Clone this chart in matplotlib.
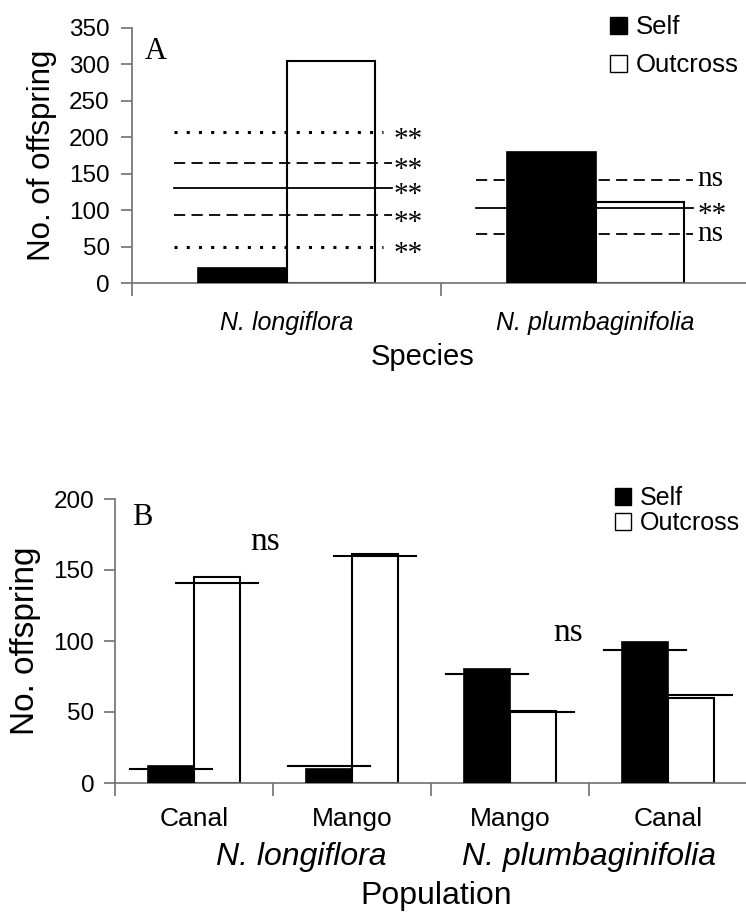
import matplotlib
matplotlib.use('Agg')
import matplotlib.pyplot as plt
from matplotlib.patches import Patch
from matplotlib.transforms import blended_transform_factory, offset_copy

plt.rcParams['font.family'] = ['Liberation Sans', 'DejaVu Sans']
SERIF = ['Liberation Serif', 'DejaVu Serif']

# panel A data
species = ['N. longiflora', 'N. plumbaginifolia']
self_a = [21, 180]
out_a = [305, 111]
# reference lines per species: value, style, significance
ref_a1 = [207, 165, 131, 93, 50]
sty_a1 = ['dotted', 'dashed', 'solid', 'dashed', 'dotted']
sig_a1 = ['**', '**', '**', '**', '**']
ref_a2 = [142, 103, 67]
sty_a2 = ['dashed', 'solid', 'dashed']
sig_a2 = ['ns', '**', 'ns']

# panel B data
pops = ['Canal', 'Mango', 'Mango', 'Canal']
self_b = [12, 10, 80, 99]
out_b = [145, 161, 51, 60]
pred_self = [10, 12, 77, 94]
pred_out = [141, 160, 50, 62]
ns_b = [(0.45, 170), (2.37, 106)]

styles = {'dotted': (0, (1, 3)), 'dashed': (0, (6.2, 3.5)), 'solid': '-'}
GREY = '#707070'

fig = plt.figure(figsize=(7.46, 9.14), dpi=100)
W, H = 746, 914

def place(l, r, t, b):
    return fig.add_axes([l / W, 1 - b / H, (r - l) / W, (b - t) / H])

def style_axes(ax, xsize, ypad):
    for s in ['top', 'right']:
        ax.spines[s].set_visible(False)
    for s in ['left', 'bottom']:
        ax.spines[s].set_color(GREY)
        ax.spines[s].set_linewidth(1.2)
    ax.tick_params(axis='y', direction='out', length=8, width=1.2, color=GREY, labelsize=17.5, pad=ypad)
    ax.tick_params(axis='x', which='major', length=0, labelsize=xsize)
    ax.tick_params(axis='x', which='minor', direction='out', length=9, width=1.2, color=GREY)

def sig_text(ax, x, y, s, size):
    # baseline shifted so the glyphs sit centred on the line
    shift = 15 if s == '**' else 7
    tr = offset_copy(ax.transData, fig=fig, y=-shift * size / 22, units='dots')
    ax.text(x, y, s, family=SERIF, fontsize=size, ha='left', va='baseline', transform=tr)

# ---------- Panel A ----------
axA = place(132, 750, 28, 283)
style_axes(axA, 18, 8)
bw = 0.285
xa = list(range(len(species)))
axA.bar([x - bw / 2 for x in xa], self_a, bw, color='black', edgecolor='black', linewidth=1.2, label='Self', zorder=3)
axA.bar([x + bw / 2 for x in xa], out_a, bw, color='white', edgecolor='black', linewidth=1.5, label='Outcross', zorder=2)

for v, st, sg in zip(ref_a1, sty_a1, sig_a1):
    end = 0.312 if st == 'dotted' else 0.341
    axA.plot([-0.364, end], [v, v], color='black', linestyle=styles[st], linewidth=2.2 if st == 'dotted' else 1.3, zorder=4)
    sig_text(axA, 0.345, v, sg, 21)
for v, st, sg in zip(ref_a2, sty_a2, sig_a2):
    axA.plot([0.613, 1.316], [v, v], color='black', linestyle=styles[st], linewidth=1.3, zorder=4)
    sig_text(axA, 1.33, v, sg, 21)

axA.set_xlim(-0.5, 1.5)
axA.set_ylim(0, 350)
axA.set_yticks(range(0, 351, 50))
axA.set_xticks(xa)
axA.set_xticklabels(species, style='italic')
axA.set_xticks([-0.5, 0.5, 1.5], minor=True)
axA.tick_params(axis='x', which='major', pad=20)
axA.set_xlabel('Species', fontsize=21)
axA.xaxis.set_label_coords(0.47, -(343 - 283) / 255)
axA.set_ylabel('No. of offspring', fontsize=22.5)
axA.yaxis.set_label_coords((57 - 132) / 618, 0.5)
axA.text(-0.458, 318, 'A', family=SERIF, fontsize=22, ha='left', va='center')
axA.legend(handles=[Patch(facecolor='black', edgecolor='black', label='Self'),
                    Patch(facecolor='white', edgecolor='black', label='Outcross')],
           loc='upper left', bbox_to_anchor=(600 / W, 1 - 5 / H), bbox_transform=fig.transFigure,
           frameon=False, fontsize=18.5, handlelength=0.65, handleheight=0.65, handletextpad=0.35,
           labelspacing=0.55, borderaxespad=0)

# ---------- Panel B ----------
axB = place(115, 747, 499, 783)
style_axes(axB, 19, 7)
bwb = 0.29
xb = list(range(len(pops)))
axB.bar([x - bwb / 2 for x in xb], self_b, bwb, color='black', edgecolor='black', linewidth=1.2, zorder=3)
axB.bar([x + bwb / 2 for x in xb], out_b, bwb, color='white', edgecolor='black', linewidth=1.5, zorder=2)
lw_half = 0.26
for x, ps, po in zip(xb, pred_self, pred_out):
    axB.plot([x - bwb / 2 - lw_half, x - bwb / 2 + lw_half], [ps, ps], color='black', linewidth=1.5, zorder=4)
    axB.plot([x + bwb / 2 - lw_half, x + bwb / 2 + lw_half], [po, po], color='black', linewidth=1.5, zorder=4)
for x, y in ns_b:
    axB.text(x, y, 'ns', family=SERIF, fontsize=24, ha='center', va='center')

axB.set_xlim(-0.5, 3.5)
axB.set_ylim(0, 200)
axB.set_yticks(range(0, 201, 50))
axB.set_xticks(xb)
axB.set_xticklabels(pops)
axB.set_xticks([-0.5, 0.5, 1.5, 2.5, 3.5], minor=True)
axB.tick_params(axis='x', which='major', pad=17)
trB = blended_transform_factory(axB.transData, axB.transAxes)
axB.text(0.68, -(857 - 783) / 284, species[0], style='italic', fontsize=23, ha='center', va='center', transform=trB)
axB.text(2.5, -(857 - 783) / 284, species[1], style='italic', fontsize=23, ha='center', va='center', transform=trB)
axB.set_xlabel('Population', fontsize=23)
axB.xaxis.set_label_coords((436 - 115) / 632, -(881 - 783) / 284)
axB.set_ylabel('No. offspring', fontsize=24)
axB.yaxis.set_label_coords((41 - 115) / 632, 0.5)
axB.text(-0.39, 187, 'B', family=SERIF, fontsize=22, ha='left', va='center')
axB.legend(handles=[Patch(facecolor='black', edgecolor='black', label='Self'),
                    Patch(facecolor='white', edgecolor='black', label='Outcross')],
           loc='upper left', bbox_to_anchor=(605 / W, 1 - 476 / H), bbox_transform=fig.transFigure,
           frameon=False, fontsize=18, handlelength=0.65, handleheight=0.65, handletextpad=0.35,
           labelspacing=0.05, borderaxespad=0)

fig.savefig('out.png', dpi=100)
